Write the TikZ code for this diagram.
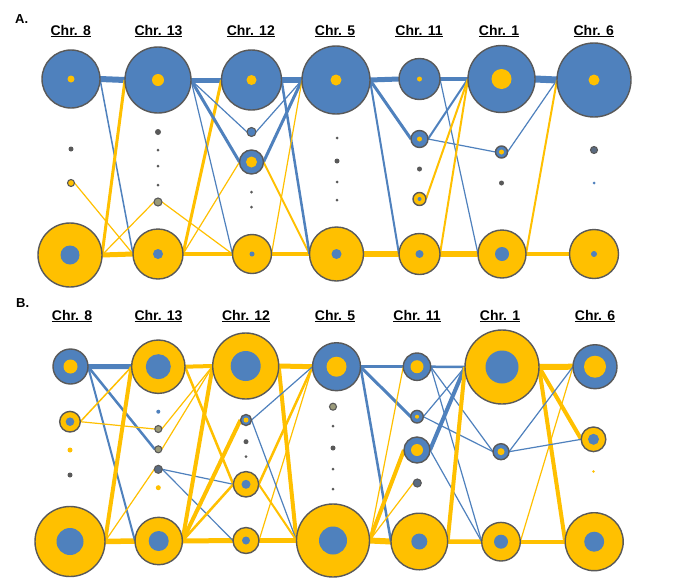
\documentclass[tikz,border=0pt]{standalone}
\usepackage{fontspec}
\setmainfont{Liberation Sans}
\usetikzlibrary{backgrounds}
\definecolor{cb}{HTML}{4F81BD}
\definecolor{cy}{HTML}{FFC000}
\definecolor{cg}{HTML}{595959}
\definecolor{co}{HTML}{9A9A7A}
\definecolor{cbg}{HTML}{5A6A80}
\tikzset{
 cnode/.style={circle,draw=cg,line width=1.4pt,inner sep=0pt,outer sep=0pt},
 rnode/.style={circle,draw=cg,line width=1.1pt,inner sep=0pt,outer sep=0pt},
 dnode/.style={circle,draw=none,inner sep=0pt,outer sep=0pt},
 ttl/.style={anchor=base,font=\bfseries\fontsize{14}{16}\selectfont,inner sep=0pt},
 lbl/.style={anchor=base west,font=\bfseries\fontsize{13}{15}\selectfont,inner sep=0pt},
}
\newcommand\cn[7]{\node[cnode,fill=#6,minimum size=#4*2pt] (#1) at (#2,#3) {};\fill[#7] (#1.center) circle[radius=#5pt];}
\newcommand\rn[5]{\node[rnode,fill=#5,minimum size=#4*2pt] (#1) at (#2,#3) {};}
\newcommand\dn[5]{\node[dnode,fill=#5,minimum size=#4*2pt] (#1) at (#2,#3) {};}
\newcommand\ed[4]{\draw[draw=#3,line width=#4pt] (#1.east) -- (#2.west);}
\newcommand\myul[1]{\setbox0\hbox{#1}\leavevmode\rlap{\rule[-2.4pt]{\wd0}{1.3pt}}\box0}
\begin{document}
\begin{tikzpicture}[x=1pt,y=-1pt]
\useasboundingbox (0,0) rectangle (685,584);
% labels
\node[lbl] (la) at (15,23) {A.};
\node[lbl] (lb) at (16,307) {B.};
% titles A
\node[ttl] (ta8) at (70.7,35) {\myul{Chr. 8}};
\node[ttl] (ta13) at (158.5,35) {\myul{Chr. 13}};
\node[ttl] (ta12) at (250.8,35) {\myul{Chr. 12}};
\node[ttl] (ta5) at (335,35) {\myul{Chr. 5}};
\node[ttl] (ta11) at (419,35) {\myul{Chr. 11}};
\node[ttl] (ta1) at (499,35) {\myul{Chr. 1}};
\node[ttl] (ta6) at (593.7,35) {\myul{Chr. 6}};
% titles B
\node[ttl] (tb8) at (72,320) {\myul{Chr. 8}};
\node[ttl] (tb13) at (158.5,320) {\myul{Chr. 13}};
\node[ttl] (tb12) at (246,320) {\myul{Chr. 12}};
\node[ttl] (tb5) at (335,320) {\myul{Chr. 5}};
\node[ttl] (tb11) at (417,320) {\myul{Chr. 11}};
\node[ttl] (tb1) at (500,320) {\myul{Chr. 1}};
\node[ttl] (tb6) at (595,320) {\myul{Chr. 6}};

% ===== Panel A nodes =====
\cn{a8t}{71}{79}{29}{3.5}{cb}{cy}
\cn{a13t}{158}{80}{33}{6}{cb}{cy}
\cn{a12t}{251.5}{80}{30}{5}{cb}{cy}
\cn{a5t}{336}{80}{34}{5.5}{cb}{cy}
\cn{a11t}{419.5}{79}{20.5}{2.5}{cb}{cy}
\cn{a1t}{501.5}{79}{33.5}{10}{cb}{cy}
\cn{a6t}{594}{80}{37}{5.5}{cb}{cy}
\cn{a8b}{70}{255}{32}{9.5}{cy}{cb}
\cn{a13b}{158}{254}{25}{5}{cy}{cb}
\cn{a12b}{252}{254}{19.5}{2.5}{cy}{cb}
\cn{a5b}{336.5}{254}{27}{5}{cy}{cb}
\cn{a11b}{419.5}{254}{20.5}{4}{cy}{cb}
\cn{a1b}{502}{254}{24}{7}{cy}{cb}
\cn{a6b}{594}{254}{24.5}{3}{cy}{cb}
\dn{a8m1}{71}{149}{2.5}{cg}
\rn{a8m2}{71}{183}{3.5}{cy}
\dn{a13m1}{158}{132}{3}{cg}
\dn{a13m2}{158}{150}{1.5}{cg}
\dn{a13m3}{158}{166}{1.5}{cg}
\dn{a13m4}{158}{185}{1.5}{cg}
\rn{a13m5}{158}{202}{4}{co}
\rn{a12m1}{251.5}{132}{4.5}{cb}
\cn{a12m2}{251.5}{162}{12}{5.5}{cb}{cy}
\dn{a12m3}{251.5}{192}{1.5}{cg}
\dn{a12m4}{251.5}{207}{1.5}{cg}
\dn{a5m1}{337}{138}{1.5}{cg}
\dn{a5m2}{337}{161}{2.5}{cg}
\dn{a5m3}{337}{182}{1.5}{cg}
\dn{a5m4}{337}{200}{1.5}{cg}
\cn{a11m1}{419.5}{139}{8.5}{2.5}{cb}{cy}
\dn{a11m2}{419.5}{169}{2.5}{cg}
\cn{a11m3}{419.5}{199}{6.5}{2}{cy}{cb}
\cn{a1m1}{501.5}{152}{6}{2.5}{cb}{cy}
\dn{a1m2}{501.5}{183}{2.5}{cg}
\rn{a6m1}{594}{150}{3.5}{cbg}
\dn{a6m2}{594}{183}{1.5}{cb}

% ===== Panel B nodes =====
\cn{b8t}{70.5}{366.5}{17.5}{7}{cb}{cy}
\cn{b13t}{158.3}{366.7}{26.7}{12.5}{cy}{cb}
\cn{b12t}{245.7}{366}{33}{15}{cy}{cb}
\cn{b5t}{336.5}{366.7}{24}{10}{cb}{cy}
\cn{b11t}{417}{366.7}{13.7}{6.5}{cb}{cy}
\cn{b1t}{502}{367}{37}{16.5}{cy}{cb}
\cn{b6t}{595}{366.7}{22}{11}{cb}{cy}
\cn{b8b}{70}{541.5}{35}{13.5}{cy}{cb}
\cn{b13b}{158.7}{541}{23.7}{10}{cy}{cb}
\cn{b12b}{246}{540.5}{13}{4}{cy}{cb}
\cn{b5b}{333}{540.5}{36.5}{14}{cy}{cb}
\cn{b11b}{419.3}{541.5}{28.3}{8}{cy}{cb}
\cn{b1b}{501}{541.7}{19.3}{7}{cy}{cb}
\cn{b6b}{594.2}{541.7}{29}{10}{cy}{cb}
\cn{b8m1}{70}{421.7}{10.3}{4.3}{cy}{cb}
\dn{b8m2}{70}{450}{2.5}{cy}
\dn{b8m3}{70}{475}{2.5}{cg}
\dn{b13m1}{158.3}{411.7}{2}{cb}
\rn{b13m2}{158.3}{429}{3.5}{co}
\rn{b13m3}{158.3}{449.3}{3.5}{co}
\rn{b13m4}{158.3}{469.3}{4}{cbg}
\dn{b13m5}{158.3}{487.7}{2.5}{cy}
\cn{b12m1}{246}{420}{5.5}{2.5}{cb}{cy}
\dn{b12m2}{246}{441.7}{2.5}{cg}
\dn{b12m3}{246}{456.7}{1.5}{cg}
\cn{b12m4}{246}{484.3}{12.7}{4.5}{cy}{cb}
\rn{b5m1}{333}{406.7}{3.5}{co}
\dn{b5m2}{333}{426}{1.5}{cg}
\dn{b5m3}{333}{448}{2.5}{cg}
\dn{b5m4}{333}{469}{1.5}{cg}
\dn{b5m5}{333}{489}{1.5}{cg}
\cn{b11m1}{417}{416.7}{6.3}{2}{cb}{cy}
\cn{b11m2}{417}{450}{13}{6}{cb}{cy}
\rn{b11m3}{417.3}{483}{4}{cbg}
\cn{b1m1}{501}{451.7}{8}{3.5}{cb}{cy}
\cn{b6m1}{593.5}{439.3}{12.3}{5.5}{cy}{cb}
\dn{b6m2}{593.5}{471.5}{1.3}{cy}

\begin{pgfonlayer}{background}
\fill[white] (0,0) rectangle (685,584);
% ===== Panel A edges =====
\ed{a8t}{a13t}{cb}{6}
\ed{a13t}{a12t}{cb}{5}
\ed{a12t}{a5t}{cb}{5.5}
\ed{a5t}{a11t}{cb}{5}
\ed{a11t}{a1t}{cb}{4.5}
\ed{a1t}{a6t}{cb}{7}
\ed{a8b}{a13b}{cy}{5}
\ed{a13b}{a12b}{cy}{4}
\ed{a12b}{a5b}{cy}{4.5}
\ed{a5b}{a11b}{cy}{5.5}
\ed{a11b}{a1b}{cy}{5.5}
\ed{a1b}{a6b}{cy}{4}
\ed{a8t}{a13b}{cb}{1.5}
\ed{a8b}{a13t}{cy}{3}
\ed{a8m2}{a13b}{cy}{1.2}
\ed{a8b}{a13m5}{cy}{1.2}
\ed{a13m5}{a12b}{cy}{1.2}
\ed{a13b}{a12t}{cy}{3}
\ed{a13b}{a12m2}{cy}{1.2}
\ed{a13t}{a12b}{cb}{1.2}
\ed{a13t}{a12m1}{cb}{1.2}
\ed{a13t}{a12m2}{cb}{3}
\ed{a12m1}{a5t}{cb}{1.2}
\ed{a12m2}{a5t}{cb}{3}
\ed{a12m2}{a5b}{cy}{2}
\ed{a12t}{a5b}{cb}{2.5}
\ed{a12b}{a5t}{cy}{1.2}
\ed{a5t}{a11m1}{cb}{3}
\ed{a5t}{a11b}{cb}{2}
\ed{a11t}{a1b}{cb}{1.2}
\ed{a11m1}{a1t}{cb}{2}
\ed{a11m1}{a1m1}{cb}{1.2}
\ed{a11m3}{a1t}{cy}{2}
\ed{a11b}{a1t}{cy}{2}
\ed{a1m1}{a6t}{cb}{1.2}
\ed{a1b}{a6t}{cy}{2}
% ===== Panel B edges =====
\ed{b8t}{b13t}{cb}{5}
\ed{b13t}{b12t}{cy}{4}
\ed{b12t}{b5t}{cy}{5}
\ed{b5t}{b11t}{cb}{3.5}
\ed{b11t}{b1t}{cb}{2.5}
\ed{b1t}{b6t}{cy}{6}
\ed{b8b}{b13b}{cy}{5.5}
\ed{b13b}{b12b}{cy}{5}
\ed{b12b}{b5b}{cy}{4.5}
\ed{b5b}{b11b}{cy}{6}
\ed{b11b}{b1b}{cy}{4.5}
\ed{b1b}{b6b}{cy}{4}
\ed{b8t}{b13m3}{cb}{2.5}
\ed{b8t}{b13b}{cb}{2}
\ed{b8m1}{b13t}{cy}{1.5}
\ed{b8m1}{b13m2}{cy}{1.2}
\ed{b8b}{b13t}{cy}{4}
\ed{b8b}{b13m4}{cy}{1.2}
\ed{b13m2}{b12t}{cy}{1.2}
\ed{b13m3}{b12t}{cy}{1.2}
\ed{b13t}{b12m4}{cy}{2.5}
\ed{b13m4}{b12m4}{cb}{1.2}
\ed{b13m4}{b12b}{cb}{1.2}
\ed{b13b}{b12t}{cy}{4}
\ed{b13b}{b12m1}{cy}{4}
\ed{b13b}{b12m4}{cy}{2.5}
\ed{b12t}{b5b}{cy}{4}
\ed{b12b}{b5t}{cy}{1.2}
\ed{b12m4}{b5t}{cy}{2.5}
\ed{b12m1}{b5t}{cb}{1.2}
\ed{b12m1}{b5b}{cb}{1.2}
\ed{b12m4}{b5b}{cy}{2}
\ed{b5t}{b11m1}{cb}{3}
\ed{b5t}{b11b}{cb}{2.5}
\ed{b5b}{b11t}{cy}{1.2}
\ed{b5b}{b11m2}{cy}{4}
\ed{b5b}{b11m3}{cy}{1.2}
\ed{b11t}{b1b}{cb}{1.2}
\ed{b11t}{b1m1}{cb}{1.2}
\ed{b11m1}{b1t}{cb}{1.2}
\ed{b11m1}{b1m1}{cb}{1.2}
\ed{b11m2}{b1t}{cb}{4}
\ed{b11m2}{b1b}{cb}{1.2}
\ed{b11b}{b1t}{cy}{4}
\ed{b1t}{b6m1}{cy}{4}
\ed{b1t}{b6b}{cy}{4}
\ed{b1b}{b6t}{cy}{1.2}
\ed{b1m1}{b6t}{cb}{1.2}
\ed{b1m1}{b6m1}{cb}{1.2}
\end{pgfonlayer}
\end{tikzpicture}
\end{document}
